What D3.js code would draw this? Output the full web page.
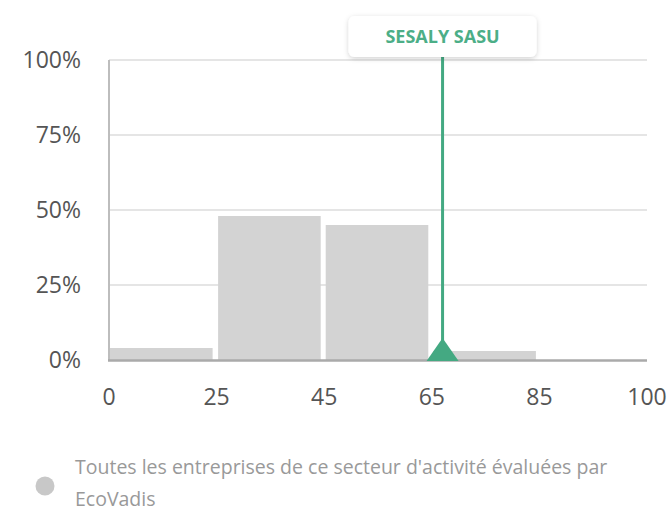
<!DOCTYPE html>
<html>
<head>
<meta charset="utf-8">
<script src="https://cdn.jsdelivr.net/npm/d3@7"></script>
<style>
  body { margin: 0; background: #fff; font-family: "Open Sans", sans-serif; }
</style>
</head>
<body>
<svg class="histo" width="669" height="513"></svg>
<script>
// score bins and share of companies (%)
var binEdges = [0, 25, 45, 65, 85, 100];
var binShares = [4, 48, 45, 3, 0];
var yTicks = [0, 25, 50, 75, 100];
var companyName = "SESALY SASU";
var companyScore = 67;
var legendLines = ["Toutes les entreprises de ce secteur d'activité évaluées par", "EcoVadis"];

var margin = { top: 60, left: 109, right: 22, bottom: 153 };
var svg = d3.select("svg.histo");
var width = 669 - margin.left - margin.right;
var height = 513 - margin.top - margin.bottom;

var g = svg.append("g")
    .attr("transform", "translate(" + margin.left + "," + margin.top + ")");

var bins = binShares.map(function(v, i) {
  return { id: i, from: binEdges[i], to: binEdges[i + 1], value: v };
});

var x = d3.scaleBand()
    .domain(bins.map(function(d) { return d.id; }))
    .range([0, width])
    .paddingInner(0).paddingOuter(0);

var y = d3.scaleLinear()
    .domain([0, 100])
    .range([height, 0]);

// gridlines
g.append("g")
    .selectAll("line")
    .data(yTicks.filter(function(t) { return t > 0; }))
    .enter().append("line")
    .attr("x1", 0).attr("x2", width)
    .attr("y1", function(d) { return y(d); })
    .attr("y2", function(d) { return y(d); })
    .attr("stroke", "#dcdcdc")
    .attr("stroke-width", 1.5);

// bars
g.append("g")
    .selectAll("rect")
    .data(bins)
    .enter().append("rect")
    .attr("x", function(d) { return x(d.id) + (d.id === 0 ? 1 : 1.5); })
    .attr("width", x.bandwidth() - 5)
    .attr("y", function(d) { return y(d.value); })
    .attr("height", function(d) { return height - y(d.value); })
    .attr("fill", "#d3d3d3");

// y axis labels
g.append("g")
    .selectAll("text")
    .data(yTicks)
    .enter().append("text")
    .attr("x", -28)
    .attr("y", function(d) { return y(d); })
    .attr("dy", "0.36em")
    .attr("text-anchor", "end")
    .attr("font-size", 23)
    .attr("fill", "#555")
    .text(function(d) { return d + "%"; });

// x axis labels at bin edges
var edgeX = d3.scaleOrdinal()
    .domain(binEdges)
    .range(binEdges.map(function(e, i) { return i * x.bandwidth(); }));

g.append("g")
    .selectAll("text")
    .data(binEdges)
    .enter().append("text")
    .attr("x", function(d) { return edgeX(d); })
    .attr("y", height + 37)
    .attr("dy", "0.36em")
    .attr("text-anchor", "middle")
    .attr("font-size", 23)
    .attr("fill", "#555")
    .text(function(d) { return d; });

// axis lines
g.append("line")
    .attr("x1", 0).attr("x2", 0)
    .attr("y1", 0).attr("y2", height + 1)
    .attr("stroke", "#bdbdbd")
    .attr("stroke-width", 2);
g.append("line")
    .attr("x1", -1).attr("x2", width)
    .attr("y1", height + 0.5).attr("y2", height + 0.5)
    .attr("stroke", "#aaa")
    .attr("stroke-width", 2.5);

// company marker
var binIdx = d3.bisectRight(binEdges, companyScore) - 1;
var mx = x(binIdx) + (companyScore - binEdges[binIdx]) / (binEdges[binIdx + 1] - binEdges[binIdx]) * x.bandwidth();
var green = "#44a982";

g.append("line")
    .attr("x1", mx).attr("x2", mx)
    .attr("y1", -16).attr("y2", height)
    .attr("stroke", green)
    .attr("stroke-width", 3);

g.append("path")
    .attr("d", "M" + (mx - 16) + "," + (height + 1) + "L" + mx + "," + (height - 22) + "L" + (mx + 16) + "," + (height + 1) + "Z")
    .attr("fill", green);

var defs = svg.append("defs");
var f = defs.append("filter").attr("id", "shadow")
    .attr("x", "-20%").attr("y", "-40%").attr("width", "140%").attr("height", "180%");
f.append("feDropShadow")
    .attr("dx", 0).attr("dy", 1.5).attr("stdDeviation", 2.5)
    .attr("flood-color", "#000").attr("flood-opacity", 0.18);

var boxW = 188, boxH = 41;
g.append("rect")
    .attr("x", mx - boxW / 2)
    .attr("y", -44)
    .attr("width", boxW)
    .attr("height", boxH)
    .attr("rx", 6)
    .attr("fill", "#fff")
    .attr("filter", "url(#shadow)");

g.append("text")
    .attr("x", mx)
    .attr("y", -23.5)
    .attr("dy", "0.36em")
    .attr("text-anchor", "middle")
    .attr("font-size", 18)
    .attr("font-weight", "bold")
    .attr("fill", "#4cae87")
    .text(companyName);

// legend
var legend = svg.append("g");
legend.append("circle")
    .attr("cx", 45).attr("cy", 486).attr("r", 9.5)
    .attr("fill", "#c8c8c8");
legend.selectAll("text")
    .data(legendLines)
    .enter().append("text")
    .attr("x", 75)
    .attr("y", function(d, i) { return 467 + i * 32; })
    .attr("dy", "0.36em")
    .attr("font-size", 19.5)
    .attr("fill", "#999")
    .text(function(d) { return d; });
</script>
</body>
</html>
